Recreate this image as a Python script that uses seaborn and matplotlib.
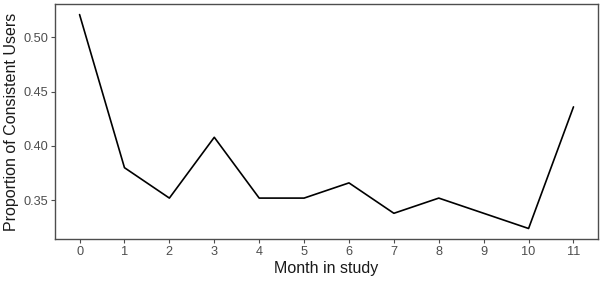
import seaborn as sns
import matplotlib.pyplot as plt
import pandas as pd

# datos
meses = [0, 1, 2, 3, 4, 5, 6, 7, 8, 9, 10, 11]
proporcion = [0.521, 0.380, 0.352, 0.408, 0.352, 0.352, 0.366, 0.338, 0.352, 0.338, 0.324, 0.436]
yticks = [0.35, 0.40, 0.45, 0.50]

datos = pd.DataFrame({'mes': meses, 'prop': proporcion})

sns.set_style('white')
plt.rcParams['font.family'] = ['Liberation Sans', 'DejaVu Sans']

fig, ax = plt.subplots(figsize=(6.03, 2.82), dpi=100)
sns.lineplot(data=datos, x='mes', y='prop', color='black', linewidth=1.2, ax=ax)

ax.set_xlim(-0.55, 11.55)
ax.set_ylim(0.3142, 0.5308)
ax.set_xticks(meses)
ax.set_yticks(yticks)
ax.set_yticklabels([f'{v:.2f}' for v in yticks])
ax.set_xlabel('Month in study', fontsize=11.5, color='#1a1a1a', labelpad=2)
ax.set_ylabel('Proportion of Consistent Users', fontsize=11.5, color='#1a1a1a', labelpad=3)
ax.tick_params(axis='both', labelsize=9.2, colors='#4d4d4d', length=3, width=0.8, pad=2, left=True, bottom=True)
for s in ax.spines.values():
    s.set_color('#4d4d4d')
    s.set_linewidth(1.0)

fig.subplots_adjust(left=0.091, right=0.992, top=0.986, bottom=0.152)
fig.savefig('out.png', dpi=100)
